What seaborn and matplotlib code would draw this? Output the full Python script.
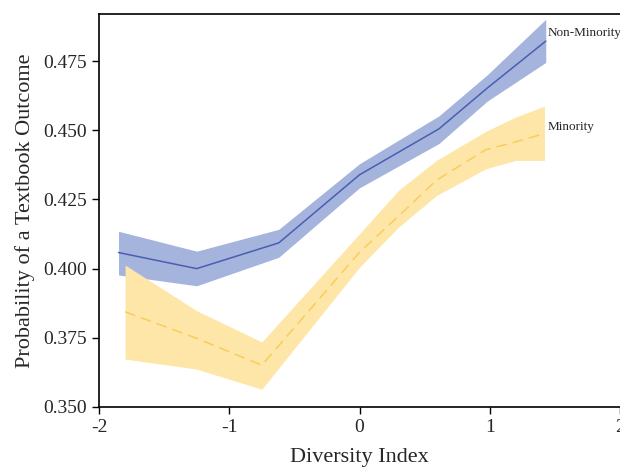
import matplotlib
matplotlib.use("Agg")
import matplotlib.pyplot as plt
import seaborn as sns
import pandas as pd
import numpy as np

# Non-Minority
nm_x = [-1.85, -1.25, -0.62, 0.0, 0.61, 0.98, 1.43]
nm_y = [0.4058, 0.4000, 0.4093, 0.4339, 0.4505, 0.4652, 0.4822]
nm_lo = [0.3977, 0.3938, 0.4041, 0.4292, 0.4452, 0.4605, 0.4745]
nm_hi = [0.4135, 0.4063, 0.4142, 0.4379, 0.4552, 0.4700, 0.4901]

# Minority
mi_x = [-1.80, -1.25, -0.75, 0.0, 0.30, 0.59, 0.97, 1.20, 1.42]
mi_y = [0.3844, 0.3748, 0.3651, 0.4059, 0.4190, 0.4319, 0.4430, 0.4458, 0.4488]
mi_lo = [0.3673, 0.3637, 0.3564, 0.4005, 0.4150, 0.4264, 0.4361, 0.4391, 0.4391]
mi_hi = [0.4013, 0.3848, 0.3735, 0.4126, 0.4283, 0.4391, 0.4496, 0.4548, 0.4587]

x_ticks = [-2, -1, 0, 1, 2]
y_ticks = [0.350, 0.375, 0.400, 0.425, 0.450, 0.475]

sns.set_style("white")
plt.rcParams['font.family'] = ['Liberation Serif', 'DejaVu Serif']

fig = plt.figure(figsize=(6.2, 4.67), dpi=100)
ax = fig.add_axes([0.1597, 0.1285, 0.8403, 0.8415])

blue_fill = "#a5b4dc"
blue_line = "#4a5db3"
yel_fill = "#fee6a9"
yel_line = "#f8cd5a"

ax.fill_between(nm_x, nm_lo, nm_hi, color=blue_fill, lw=0, zorder=1)
ax.fill_between(mi_x, mi_lo, mi_hi, color=yel_fill, lw=0, zorder=1)

df_nm = pd.DataFrame({"x": nm_x, "y": nm_y})
df_mi = pd.DataFrame({"x": mi_x, "y": mi_y})
sns.lineplot(data=df_nm, x="x", y="y", ax=ax, color=blue_line, lw=1.1, zorder=3)
sns.lineplot(data=df_mi, x="x", y="y", ax=ax, color=yel_line, lw=1.1,
             linestyle=(0, (7, 4)), zorder=3)

ax.text(1.445, 0.4851, "Non-Minority", fontsize=9.5, va="center", ha="left")
ax.text(1.445, 0.4511, "Minority", fontsize=9.5, va="center", ha="left")

ax.set_xlim(-2, 2.0)
ax.set_ylim(0.350, 0.492)
ax.set_xticks(x_ticks)
ax.set_xticklabels([str(t) for t in x_ticks])
ax.set_yticks(y_ticks)
ax.set_yticklabels([f"{t:.3f}" for t in y_ticks])
ax.tick_params(axis='both', which='major', labelsize=14, direction='out',
               length=5, width=1, color='black', bottom=True, left=True)
ax.set_xlabel("Diversity Index", fontsize=16, labelpad=9)
ax.set_ylabel("Probability of a Textbook Outcome", fontsize=16, labelpad=6)

for s in ['left', 'bottom', 'top']:
    ax.spines[s].set_color('black')
    ax.spines[s].set_linewidth(1.2)
ax.spines['right'].set_visible(False)

fig.savefig("out.png", dpi=100)
